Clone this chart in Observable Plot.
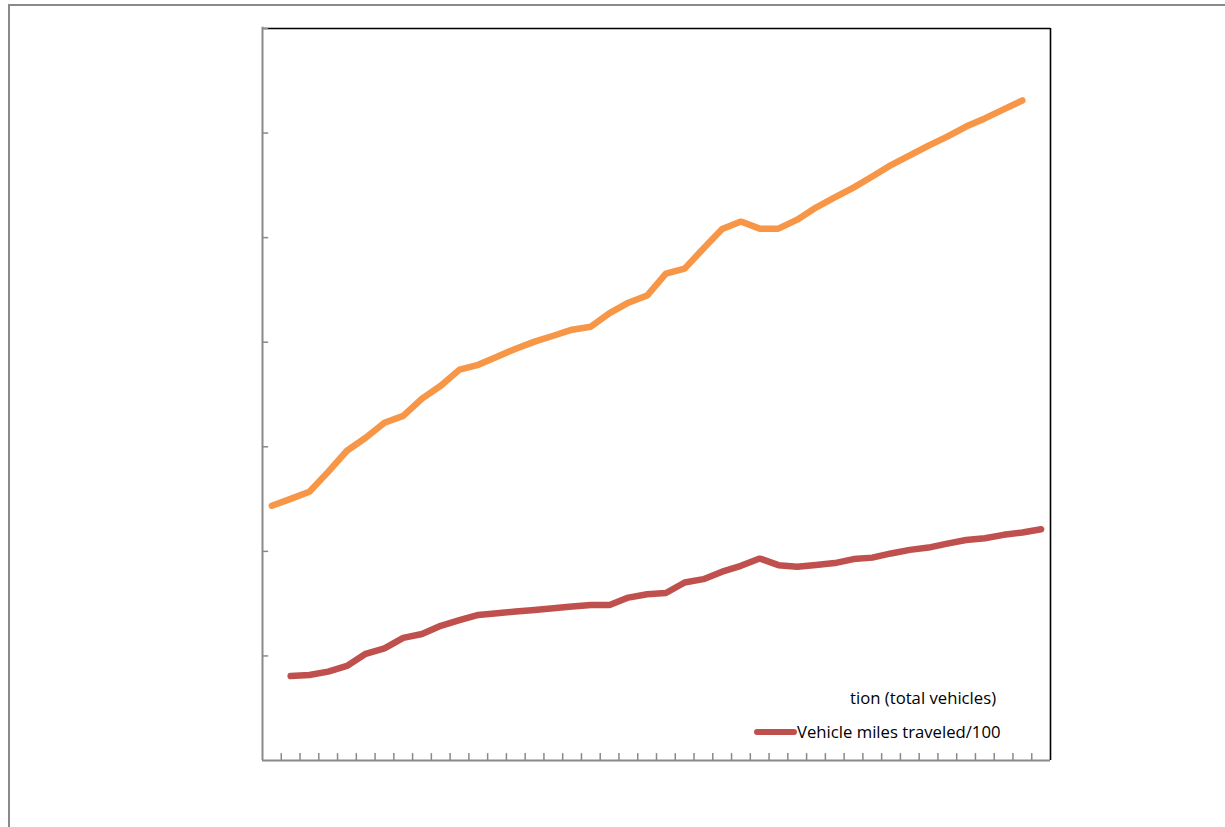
<!DOCTYPE html>
<html>
<head>
<meta charset="utf-8">
<script src="https://cdn.jsdelivr.net/npm/d3@7"></script>
<script src="https://cdn.jsdelivr.net/npm/@observablehq/plot@0.6"></script>
<style>
  html, body { margin: 0; padding: 0; background: #fff; }
  #page { position: relative; width: 1225px; height: 827px; overflow: hidden; }
  #sheet { position: absolute; left: 8px; top: 4px; width: 1300px; height: 900px;
           border-left: 2px solid #8a8a8a; border-top: 2px solid #8a8a8a; }
  #chart { position: absolute; left: 0; top: 0; }
  .leg { position: absolute; font-family: "Open Sans", Lato, sans-serif; font-size: 16.7px;
         color: #000; white-space: nowrap; line-height: 1; }
  .swatch { position: absolute; height: 6px; border-radius: 3px; background: #C0504D; }
</style>
</head>
<body>
<div id="page">
  <div id="sheet"></div>
  <div id="chart"></div>
  <div class="leg" id="leg1" style="left:850px; top:690px;">tion (total vehicles)</div>
  <div class="swatch" style="left:754px; top:729px; width:43px;"></div>
  <div class="leg" id="leg2" style="left:797px; top:724px;">Vehicle miles traveled/100</div>
</div>
<script>
// Years on the category axis
const years = d3.range(1970, 2012);

// Total registered vehicles (1970–2010)
const registrations = [
  121.8, 125.1, 128.5, 138.0, 148.1, 154.3, 161.5, 164.8, 173.0, 179.2,
  186.9, 189.2, 193.1, 196.9, 200.3, 203.1, 206.0, 207.4, 213.9, 218.9,
  222.3, 232.8, 235.2, 244.8, 254.1, 257.7, 254.3, 254.3, 258.6, 264.4,
  269.2, 273.9, 279.2, 284.7, 289.3, 294.0, 298.3, 303.1, 307.0, 311.3,
  315.6
];

// Vehicle miles traveled / 100 (1971–2011)
const milesTraveled = [
  40.4, 40.9, 42.5, 45.2, 51.0, 53.6, 58.6, 60.5, 64.4, 67.1,
  69.6, 70.4, 71.2, 72.0, 72.8, 73.6, 74.4, 74.3, 77.9, 79.5,
  80.1, 85.1, 86.7, 90.3, 93.1, 96.6, 93.4, 92.6, 93.5, 94.4,
  96.3, 97.0, 99.0, 100.7, 101.8, 103.7, 105.4, 106.3, 107.9, 109.0,
  110.6
];

const yTicks = [50, 100, 150, 200, 250, 300, 350];

const regData = registrations.map((v, i) => ({year: years[i], value: v}));
const vmtData = milesTraveled.map((v, i) => ({year: years[i + 1], value: v}));

const x0 = years[0] - 0.5, x1 = years[years.length - 1] + 0.5;
const xBoundaries = years.slice(1).map(y => y - 0.5);
const axisGray = "#898989";

const chart = Plot.plot({
  width: 1225,
  height: 827,
  marginLeft: 262,
  marginRight: 175,
  marginTop: 28,
  marginBottom: 67,
  x: {type: "linear", domain: [x0, x1], axis: null},
  y: {domain: [0, 350], axis: null},
  style: {background: "transparent", overflow: "visible"},
  marks: [
    // plot frame: black top and right edges
    Plot.ruleY([350], {x1: x0, x2: x1, stroke: "#000", strokeWidth: 1.6}),
    Plot.ruleX([x1], {y1: 0, y2: 350, stroke: "#000", strokeWidth: 1.6}),
    // gray value axis and category axis
    Plot.ruleX([x0], {y1: 0, y2: 350.6, stroke: axisGray, strokeWidth: 2}),
    Plot.ruleY([0], {x1: x0, x2: x1, stroke: axisGray, strokeWidth: 2}),
    // value ticks pointing inward
    Plot.ruleY(yTicks, {x1: x0, x2: x0 + 0.33, stroke: axisGray, strokeWidth: 1.5}),
    // category boundary ticks pointing upward
    Plot.ruleX(xBoundaries, {y1: 0, y2: 3.3, stroke: axisGray, strokeWidth: 1.5}),
    // series
    Plot.line(regData, {x: "year", y: "value", stroke: "#F79646", strokeWidth: 6.5,
                        strokeLinecap: "round", strokeLinejoin: "miter"}),
    Plot.line(vmtData, {x: "year", y: "value", stroke: "#C0504D", strokeWidth: 6.5,
                        strokeLinecap: "round", strokeLinejoin: "miter"})
  ]
});
document.getElementById("chart").appendChild(chart);
</script>
</body>
</html>
